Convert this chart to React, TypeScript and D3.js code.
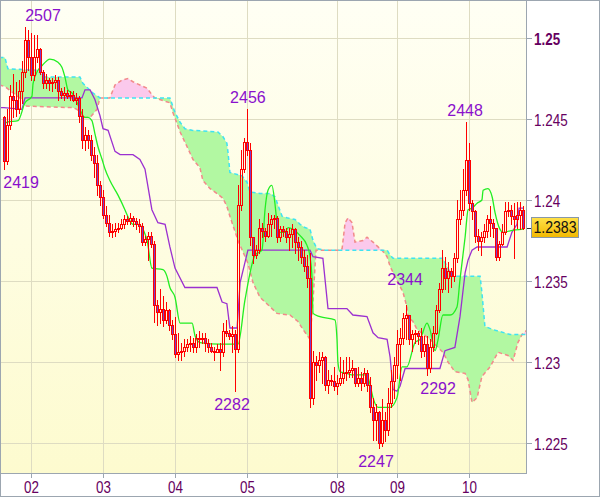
import React from 'react';
import * as d3 from 'd3';

type P = [number, number];

const firstOpen = 1.2451;
const closes = [
  1.2424, 1.2446, 1.2464, 1.2462, 1.2456, 1.2467, 1.2479, 1.2499, 1.2488, 1.2477,
  1.2488, 1.2493, 1.2479, 1.2472, 1.2474, 1.2472, 1.2473, 1.2474, 1.2467, 1.2465,
  1.2466, 1.2464, 1.2465, 1.2462, 1.2463, 1.2452, 1.2437, 1.2440, 1.2437, 1.2428,
  1.2423, 1.2409, 1.2402, 1.2391, 1.2386, 1.2380, 1.2381, 1.2382, 1.2383, 1.2385,
  1.2388, 1.2387, 1.2389, 1.2387, 1.2385, 1.2384, 1.2374, 1.2376, 1.2378, 1.2373,
  1.2335, 1.2331, 1.2333, 1.2326, 1.2332, 1.2323, 1.2317, 1.2305, 1.2306, 1.2307,
  1.2309, 1.2311, 1.2312, 1.2309, 1.2315, 1.2314, 1.2315, 1.2312, 1.2309, 1.2307,
  1.2306, 1.2308, 1.2306, 1.2319, 1.2318, 1.2316, 1.2317, 1.2308, 1.2397, 1.2419,
  1.2436, 1.2431, 1.2377, 1.2366, 1.2369, 1.2383, 1.2381, 1.2378, 1.2385, 1.2388,
  1.2389, 1.2377, 1.2382, 1.2381, 1.2377, 1.2379, 1.2382, 1.2374, 1.2371, 1.2365,
  1.2359, 1.2352, 1.2278, 1.2300, 1.2298, 1.2301, 1.2303, 1.2286, 1.2289, 1.2288,
  1.2285, 1.2287, 1.2290, 1.2293, 1.2294, 1.2295, 1.2296, 1.2287, 1.2290, 1.2287,
  1.2293, 1.2286, 1.2272, 1.2264, 1.2269, 1.2250, 1.2264, 1.2258, 1.2275, 1.2288,
  1.2298, 1.2311, 1.2315, 1.2327, 1.2329, 1.2314, 1.2317, 1.2318, 1.2316, 1.2307,
  1.2311, 1.2296, 1.2309, 1.2318, 1.2332, 1.2345, 1.2358, 1.2352, 1.2356, 1.2353,
  1.2364, 1.2388, 1.2394, 1.2406, 1.2425, 1.2398, 1.2393, 1.2378, 1.2375, 1.2377,
  1.2381, 1.2388, 1.2386, 1.2383, 1.2365, 1.2373, 1.2380, 1.2393, 1.2394, 1.2390,
  1.2388, 1.2391, 1.2394, 1.2383,
];
const highs = [
  1.2452, 1.2456, 1.2471, 1.2478, 1.2473, 1.2474, 1.2486, 1.2507, 1.2505, 1.2503,
  1.2502, 1.2502, 1.2494, 1.2480, 1.2478, 1.2475, 1.2475, 1.2477, 1.2476, 1.2469,
  1.2470, 1.2468, 1.2467, 1.2467, 1.2466, 1.2464, 1.2456, 1.2445, 1.2443, 1.2440,
  1.2433, 1.2428, 1.2412, 1.2406, 1.2396, 1.2391, 1.2385, 1.2386, 1.2386, 1.2388,
  1.2391, 1.2390, 1.2392, 1.2390, 1.2389, 1.2388, 1.2386, 1.2378, 1.2380, 1.2380,
  1.2375, 1.2338, 1.2345, 1.2341, 1.2337, 1.2333, 1.2326, 1.2328, 1.2318, 1.2312,
  1.2314, 1.2314, 1.2316, 1.2315, 1.2317, 1.2319, 1.2318, 1.2318, 1.2314, 1.2312,
  1.2309, 1.2311, 1.2312, 1.2324, 1.2326, 1.2320, 1.2322, 1.2320, 1.2409, 1.2431,
  1.2438, 1.2456, 1.2435, 1.2377, 1.2372, 1.2388, 1.2386, 1.2383, 1.2392, 1.2391,
  1.2391, 1.2390, 1.2384, 1.2384, 1.2383, 1.2383, 1.2385, 1.2383, 1.2377, 1.2375,
  1.2369, 1.2366, 1.2367, 1.2307, 1.2304, 1.2306, 1.2306, 1.2304, 1.2295, 1.2292,
  1.2297, 1.2292, 1.2303, 1.2301, 1.2303, 1.2303, 1.2301, 1.2296, 1.2297, 1.2294,
  1.2296, 1.2295, 1.2291, 1.2278, 1.2274, 1.2270, 1.2277, 1.2269, 1.2284, 1.2295,
  1.2303, 1.2320, 1.2321, 1.2330, 1.2335, 1.2329, 1.2320, 1.2320, 1.2319, 1.2321,
  1.2316, 1.2316, 1.2314, 1.2322, 1.2335, 1.2349, 1.2369, 1.2365, 1.2362, 1.2358,
  1.2367, 1.2400, 1.2406, 1.2419, 1.2448, 1.2435, 1.2400, 1.2394, 1.2382, 1.2380,
  1.2385, 1.2391, 1.2396, 1.2388, 1.2383, 1.2375, 1.2385, 1.2399, 1.2399, 1.2397,
  1.2398, 1.2399, 1.2399, 1.2396,
];
const lows = [
  1.2419, 1.2422, 1.2444, 1.2451, 1.2452, 1.2454, 1.2460, 1.2476, 1.2480, 1.2474,
  1.2474, 1.2485, 1.2478, 1.2469, 1.2469, 1.2468, 1.2467, 1.2469, 1.2462, 1.2463,
  1.2462, 1.2463, 1.2462, 1.2461, 1.2459, 1.2448, 1.2432, 1.2431, 1.2432, 1.2425,
  1.2414, 1.2403, 1.2397, 1.2389, 1.2384, 1.2378, 1.2377, 1.2378, 1.2380, 1.2382,
  1.2383, 1.2385, 1.2385, 1.2384, 1.2382, 1.2380, 1.2372, 1.2372, 1.2363, 1.2371,
  1.2325, 1.2323, 1.2324, 1.2322, 1.2324, 1.2320, 1.2314, 1.2303, 1.2301, 1.2301,
  1.2304, 1.2307, 1.2307, 1.2306, 1.2306, 1.2309, 1.2312, 1.2307, 1.2306, 1.2306,
  1.2301, 1.2306, 1.2295, 1.2304, 1.2316, 1.2314, 1.2306, 1.2282, 1.2306, 1.2394,
  1.2417, 1.2428, 1.2372, 1.2361, 1.2364, 1.2367, 1.2377, 1.2375, 1.2377, 1.2378,
  1.2383, 1.2374, 1.2375, 1.2378, 1.2374, 1.2369, 1.2371, 1.2367, 1.2363, 1.2361,
  1.2356, 1.2346, 1.2272, 1.2274, 1.2289, 1.2294, 1.2287, 1.2283, 1.2281, 1.2286,
  1.2283, 1.2280, 1.2286, 1.2287, 1.2289, 1.2291, 1.2291, 1.2285, 1.2285, 1.2283,
  1.2285, 1.2282, 1.2269, 1.2252, 1.2252, 1.2247, 1.2248, 1.2251, 1.2255, 1.2272,
  1.2278, 1.2290, 1.2289, 1.2311, 1.2314, 1.2311, 1.2307, 1.2312, 1.2311, 1.2303,
  1.2304, 1.2292, 1.2294, 1.2307, 1.2317, 1.2331, 1.2343, 1.2345, 1.2343, 1.2346,
  1.2350, 1.2362, 1.2385, 1.2391, 1.2403, 1.2394, 1.2388, 1.2374, 1.2369, 1.2366,
  1.2374, 1.2377, 1.2378, 1.2377, 1.2363, 1.2363, 1.2372, 1.2379, 1.2390, 1.2385,
  1.2364, 1.2383, 1.2382, 1.2382,
];

const dayLabels = ['02', '03', '04', '05', '08', '09', '10'];
const dayStarts = [9, 33, 57, 81, 111, 131, 155];
const priceTicks = [1.225, 1.23, 1.235, 1.24, 1.245, 1.25];
const boldTick = 1.25;

const greenLine: P[] = [
  [0, 1.2446], [1, 1.2448], [4.7, 1.2449], [7, 1.246], [9.3, 1.2464], [9.7, 1.2472], [11.3, 1.248],
  [12.7, 1.2483], [14.3, 1.2486], [15.3, 1.2487], [18, 1.2485], [19.3, 1.2482], [20.3, 1.2476],
  [21.3, 1.2468], [22.7, 1.2466], [23.7, 1.2463], [25.3, 1.2456], [27, 1.2451], [28, 1.2451],
  [29.3, 1.2449], [30.3, 1.2441], [31.3, 1.2433], [32.7, 1.2425], [33.7, 1.2419], [35.3, 1.2412],
  [38, 1.2403], [40.3, 1.2394], [41, 1.2391], [43, 1.2385], [44.7, 1.2385], [47.7, 1.2375],
  [49.3, 1.2358], [53, 1.2357], [54.3, 1.2353], [55.3, 1.2346], [57, 1.234], [58.7, 1.2324],
  [62.7, 1.2324], [63.7, 1.2316], [65.3, 1.2312], [72, 1.2311], [78, 1.2311], [80.3, 1.2338],
  [83.7, 1.2366], [86, 1.2369], [87, 1.2394], [88, 1.2406], [89.3, 1.2409], [90.3, 1.2398],
  [91, 1.2386], [92, 1.238], [93.7, 1.238], [94.7, 1.2383], [96.3, 1.2382], [98.7, 1.2378],
  [101, 1.2372], [102, 1.2365], [102.7, 1.2351], [103, 1.233], [105.3, 1.2328], [110.3, 1.2326],
  [111, 1.2314], [111.3, 1.23], [112, 1.2294], [114.3, 1.2293], [116.3, 1.2292], [121, 1.2292],
  [122, 1.2286], [123, 1.2278], [124.7, 1.2272], [128.7, 1.2272], [131, 1.2278], [132.7, 1.2297],
  [134.3, 1.2297], [137, 1.2312], [138.7, 1.2314], [141, 1.2324], [142, 1.232], [143.7, 1.2307],
  [144.7, 1.2314], [146.3, 1.2329], [148.7, 1.2329], [151, 1.2334], [152, 1.2351], [153.7, 1.2377],
  [154.7, 1.2394], [156, 1.2395], [157.7, 1.2398], [159.3, 1.24], [159.7, 1.2406], [161.3, 1.2407],
  [162.7, 1.2402], [163.7, 1.2392], [165.3, 1.2382], [166.3, 1.238], [168.7, 1.2381], [173, 1.2382],
];

const purpleLine: P[] = [
  [-1.5, 1.2457], [0, 1.2457], [6, 1.2456], [7, 1.2463], [26, 1.2463], [27, 1.2468], [28.7, 1.2468],
  [30.3, 1.2462], [32, 1.2452], [33, 1.2444], [34.7, 1.2443], [37, 1.243], [38.7, 1.2428], [43, 1.2428],
  [45.3, 1.2425], [47, 1.2419], [49.3, 1.2394], [51.3, 1.2386], [53.7, 1.2385], [55.3, 1.2371],
  [57, 1.2358], [60.3, 1.2346], [71, 1.2346], [72.7, 1.2337], [74.3, 1.2336], [75.3, 1.2321],
  [77.7, 1.2321], [78.7, 1.2349], [81.3, 1.2369], [102, 1.2369], [103, 1.2365], [106.3, 1.2364],
  [108, 1.2333], [114.3, 1.2333], [116.3, 1.2329], [121, 1.2328], [123, 1.2318], [124.7, 1.2315],
  [127.7, 1.2314], [128.7, 1.2303], [129.7, 1.2283], [131, 1.2282], [132, 1.2285], [133.7, 1.2296],
  [145.3, 1.2296], [147, 1.2307], [150.3, 1.2309], [152, 1.2328], [153.7, 1.2355], [154.7, 1.2363],
  [156, 1.2369], [157.7, 1.2371], [167.7, 1.2371], [169.3, 1.238], [171, 1.2385], [171.7, 1.2395],
  [173, 1.2395],
];

const spanA: P[] = [
  [-1.5, 1.2488], [0.3, 1.2488], [1.3, 1.2481], [11.3, 1.248], [13, 1.2476], [25.3, 1.2476],
  [26.3, 1.2472], [28, 1.2469], [29.7, 1.2466], [32, 1.2463], [55.3, 1.2463], [57, 1.2454],
  [58.7, 1.2448], [60.3, 1.2444], [62.7, 1.2443], [71.3, 1.2442], [73, 1.2439], [74.3, 1.2435],
  [74.7, 1.2429], [75.3, 1.2417], [79.3, 1.2415], [81, 1.2411], [82, 1.2405], [85.3, 1.2404],
  [88.7, 1.2404], [90.3, 1.2402], [92.7, 1.239], [94.3, 1.2389], [97, 1.2388], [98.7, 1.2385],
  [100.3, 1.2383], [102, 1.2382], [103, 1.2375], [104.3, 1.237], [107, 1.2369], [127.7, 1.2369],
  [128.7, 1.2366], [129.7, 1.2364], [146.3, 1.2364], [147.7, 1.2359], [149.3, 1.2353], [158.7, 1.2353],
  [159.3, 1.2343], [160.3, 1.2322], [163, 1.232], [168.7, 1.2317], [174.5, 1.2317],
];

const spanB: P[] = [
  [-1.5, 1.2471], [0.3, 1.247], [6, 1.2462], [7, 1.2458], [23, 1.2457], [24.3, 1.2456], [25.3, 1.2454],
  [26.3, 1.2451], [28.7, 1.2451], [31, 1.2456], [32, 1.2463], [35.3, 1.2463], [37, 1.2471],
  [39.3, 1.2474], [41.3, 1.2475], [43, 1.2473], [45.3, 1.2471], [47.7, 1.2469], [49.3, 1.2465],
  [50.3, 1.2463], [55.3, 1.246], [56.3, 1.2454], [58.7, 1.2442], [61, 1.2433], [62, 1.2429],
  [63, 1.2425], [65.3, 1.242], [66.3, 1.2412], [68.7, 1.2407], [71, 1.2404], [73, 1.2401],
  [74.3, 1.2396], [75.3, 1.239], [78, 1.2375], [81.3, 1.2361], [83, 1.2349], [85.3, 1.234],
  [87, 1.2337], [91, 1.233], [95.3, 1.2329], [98, 1.2325], [99.7, 1.232], [102, 1.2314],
  [103, 1.2338], [104, 1.2369], [112, 1.2369], [112.7, 1.237], [113.7, 1.2386], [114.7, 1.2389],
  [116, 1.2386], [117, 1.2374], [119.7, 1.2375], [121, 1.2377], [123, 1.2374], [125.3, 1.237],
  [126, 1.2369], [127.7, 1.2365], [128.7, 1.2359], [133, 1.2343], [134.3, 1.2334], [134.7, 1.2328],
  [136.3, 1.2325], [137.7, 1.232], [142, 1.2314], [146.3, 1.2306], [148, 1.23], [150.3, 1.2294],
  [153.7, 1.2293], [154.7, 1.2289], [156, 1.2275], [157.7, 1.2278], [159.3, 1.2291], [162, 1.2297],
  [164.7, 1.2306], [168, 1.2304], [169.7, 1.2301], [171.3, 1.2312], [172.7, 1.2317], [174.5, 1.232],
];

const labelTexts = ['2507', '2419', '2456', '2282', '2344', '2247', '2292', '2448'];
const labelIdx = [13, 5.7, 81.3, 76, 133.7, 124, 144.7, 153.7];
const labelPrices = [1.2507, 1.2419, 1.2456, 1.2282, 1.2344, 1.2247, 1.2292, 1.2448];
const labelAbove = [true, false, true, false, true, false, false, true];

const W = 600;
const H = 497;
const PR = 526;
const PB = 473;
const FONT = '"Liberation Sans", Arial, sans-serif';
const AXIS_COLOR = '#660060';
const FRAME = '#9ca6b0';

export default function App() {
  const x = d3.scaleLinear().domain([0, 173]).range([4, 523]);
  const y = d3.scaleLinear().domain([1.225, 1.25]).range([443, 38]);

  const bars = closes.map((c, i) => {
    const o = i === 0 ? firstOpen : closes[i - 1];
    return { i, o, c, h: Math.max(highs[i], o, c), l: Math.min(lows[i], o, c) };
  });

  const lin = d3.line<P>().x((d) => x(d[0])).y((d) => y(d[1]));
  const smooth = d3.line<P>().x((d) => x(d[0])).y((d) => y(d[1])).curve(d3.curveMonotoneX);
  const aboveOf = (pts: P[]) => d3.area<P>().x((d) => x(d[0])).y0(-5).y1((d) => y(d[1]))(pts) || '';
  const belowOf = (pts: P[]) => d3.area<P>().x((d) => x(d[0])).y0((d) => y(d[1])).y1(PB + 5)(pts) || '';

  const last = closes[closes.length - 1];
  const lastY = Math.round(y(last));

  return (
    <svg
      width={W}
      height={H}
      style={{ position: 'absolute', left: 0, top: 0, display: 'block' }}
      xmlns="http://www.w3.org/2000/svg"
    >
      <defs>
        <linearGradient id="bg" x1="0" y1="0" x2="0" y2="1">
          <stop offset="0" stopColor="#fffff4" />
          <stop offset="1" stopColor="#fdfbcf" />
        </linearGradient>
        <linearGradient id="gold" x1="0" y1="0" x2="0" y2="1">
          <stop offset="0" stopColor="#ffe24a" />
          <stop offset="1" stopColor="#f2b800" />
        </linearGradient>
        <clipPath id="plot">
          <rect x={0} y={0} width={PR} height={PB} />
        </clipPath>
        <clipPath id="belowA">
          <path d={belowOf(spanA)} />
        </clipPath>
        <clipPath id="aboveA">
          <path d={aboveOf(spanA)} />
        </clipPath>
        <clipPath id="belowB">
          <path d={belowOf(spanB)} />
        </clipPath>
        <clipPath id="aboveB">
          <path d={aboveOf(spanB)} />
        </clipPath>
      </defs>

      <rect x={0} y={0} width={W} height={H} fill="#ffffff" />
      <rect x={0} y={0} width={PR} height={PB} fill="url(#bg)" />

      <g clipPath="url(#plot)">
        {/* grid */}
        {priceTicks.map((t) => (
          <line key={'h' + t} x1={0} x2={PR} y1={Math.round(y(t)) + 0.5} y2={Math.round(y(t)) + 0.5} stroke="#dedcc2" strokeWidth={1} />
        ))}
        {dayStarts.map((d) => (
          <line key={'v' + d} x1={Math.round(x(d)) + 0.5} x2={Math.round(x(d)) + 0.5} y1={0} y2={PB} stroke="#dedcc2" strokeWidth={1} />
        ))}

        {/* cloud */}
        <g clipPath="url(#aboveB)">
          <rect x={0} y={0} width={PR} height={PB} fill="#b2f8a2" clipPath="url(#belowA)" />
        </g>
        <g clipPath="url(#belowB)">
          <rect x={0} y={0} width={PR} height={PB} fill="#fbc9ec" clipPath="url(#aboveA)" />
        </g>
        <path d={lin(spanB) || ''} fill="none" stroke="#f28a8a" strokeWidth={1.5} strokeDasharray="4,3" />
        <path d={lin(spanA) || ''} fill="none" stroke="#3fe3f2" strokeWidth={1.5} strokeDasharray="4,3" />

        {/* indicator lines */}
        <path d={lin(purpleLine) || ''} fill="none" stroke="#9b30d0" strokeWidth={1.3} />
        <path d={smooth(greenLine) || ''} fill="none" stroke="#22ee22" strokeWidth={1.3} />

        {/* candles */}
        <g shapeRendering="crispEdges">
          {bars.map((b) => {
            const cx = Math.round(x(b.i));
            const top = Math.round(y(Math.max(b.o, b.c)));
            const bot = Math.round(y(Math.min(b.o, b.c)));
            const hy = Math.round(y(b.h));
            const ly = Math.round(y(b.l));
            const bear = b.c < b.o;
            const hgt = Math.max(bot - top, 1);
            return (
              <g key={b.i}>
                {hy < top && <line x1={cx + 0.5} x2={cx + 0.5} y1={hy} y2={top} stroke="#ff0000" strokeWidth={1} />}
                {ly > top + hgt && <line x1={cx + 0.5} x2={cx + 0.5} y1={top + hgt} y2={ly + 1} stroke="#ff0000" strokeWidth={1} />}
                <rect
                  x={cx - 0.5}
                  y={top + 0.5}
                  width={2}
                  height={hgt}
                  fill={bear ? '#7a3fc8' : 'none'}
                  stroke="#ff0000"
                  strokeWidth={1}
                />
              </g>
            );
          })}
        </g>

        {/* extreme labels */}
        {labelTexts.map((t, k) => {
          const py = y(labelPrices[k]);
          return (
            <text
              key={t}
              x={x(labelIdx[k])}
              y={labelAbove[k] ? py - 6 : py + 19}
              textAnchor="middle"
              fontFamily={FONT}
              fontSize={16}
              fill="#8a10cc"
            >
              {t}
            </text>
          );
        })}
      </g>

      {/* frame lines */}
      <line x1={PR + 0.5} x2={PR + 0.5} y1={0} y2={PB} stroke={FRAME} strokeWidth={1} />
      <line x1={0} x2={PR + 1} y1={PB + 0.5} y2={PB + 0.5} stroke={FRAME} strokeWidth={1} />
      <rect x={0.5} y={0.5} width={W - 1} height={H - 1} fill="none" stroke={FRAME} strokeWidth={1} />

      {/* right axis */}
      {priceTicks.map((t) => {
        const ty = Math.round(y(t)) + 0.5;
        return (
          <g key={'r' + t}>
            <line x1={PR + 1} x2={PR + 6} y1={ty} y2={ty} stroke={FRAME} strokeWidth={1} />
            <text
              transform={`translate(534,${ty + 6}) scale(0.84,1)`}
              fontFamily={FONT}
              fontSize={16}
              fontWeight={t === boldTick ? 'bold' : 'normal'}
              fill={AXIS_COLOR}
            >
              {d3.format('~g')(t)}
            </text>
          </g>
        );
      })}

      {/* bottom axis */}
      {dayStarts.map((d, k) => {
        const tx = Math.round(x(d)) + 0.5;
        return (
          <g key={'b' + d}>
            <line x1={tx} x2={tx} y1={PB + 1} y2={PB + 5} stroke={FRAME} strokeWidth={1} />
            <text
              transform={`translate(${tx},493) scale(0.84,1)`}
              textAnchor="middle"
              fontFamily={FONT}
              fontSize={16}
              fill={AXIS_COLOR}
            >
              {dayLabels[k]}
            </text>
          </g>
        );
      })}

      {/* last price marker */}
      <line x1={PR + 1} x2={PR + 6} y1={lastY + 0.5} y2={lastY + 0.5} stroke="#333" strokeWidth={1} />
      <rect x={531.5} y={lastY - 10.5} width={47} height={20} fill="url(#gold)" stroke="#8898a8" strokeWidth={1} />
      <text
        transform={`translate(555,${lastY + 5}) scale(0.88,1)`}
        textAnchor="middle"
        fontFamily={FONT}
        fontSize={16}
        fill="#111"
      >
        {last.toFixed(4)}
      </text>
    </svg>
  );
}
